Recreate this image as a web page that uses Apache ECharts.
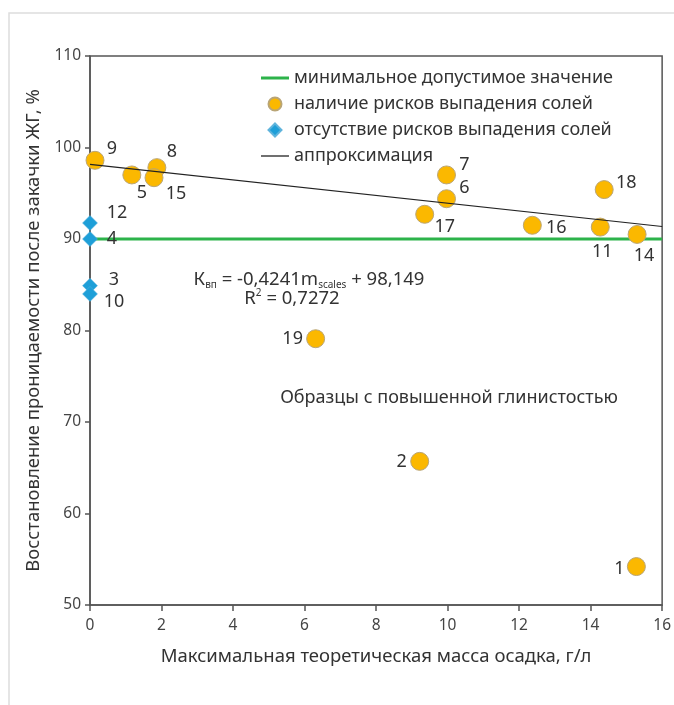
<!DOCTYPE html>
<html>
<head>
<meta charset="utf-8">
<script src="https://cdn.jsdelivr.net/npm/echarts@6/dist/echarts.min.js"></script>
<style>
  html, body { margin: 0; padding: 0; background: #fff; }
  #chart { width: 674px; height: 705px; }
</style>
</head>
<body>
<div id="chart"></div>
<script>
// samples with salt precipitation risk: [x, y, label, dx, dy]
var riskPoints = [
  [0.14, 98.6, '9', 17, -11],
  [1.17, 97.0, '5', 10, 18],
  [1.87, 97.8, '8', 15, -16],
  [1.79, 96.7, '15', 22, 16],
  [9.97, 97.0, '7', 18, -10],
  [9.97, 94.4, '6', 18, -11],
  [9.36, 92.7, '17', 20, 13],
  [12.37, 91.5, '16', 24, 3],
  [14.27, 91.3, '11', 2, 25],
  [15.30, 90.5, '14', 7, 21],
  [14.38, 95.4, '18', 22, -7],
  [6.31, 79.1, '19', -23, 0],
  [9.22, 65.7, '2', -18, 1],
  [15.28, 54.2, '1', -17, 2]
]
// samples without risk
var noRiskPoints = [
  [0, 91.75, '12', 27, -10],
  [0, 90.0, '4', 22, 0],
  [0, 84.9, '3', 24, -6],
  [0, 84.0, '10', 24, 8]
]
var minValueLine = [[0, 90], [16, 90]]
var slope = -0.4241
var intercept = 98.149
var trendX = [0, 16]

var legendNames = [
  'минимальное допустимое значение',
  'наличие рисков выпадения солей',
  'отсутствие рисков выпадения солей',
  'аппроксимация'
]

var font = 'Noto Sans'

function toData (arr) {
  return arr.map(function (p) {
    return {
      value: [p[0], p[1]],
      name: p[2],
      label: { offset: [p[3], p[4]] }
    }
  })
}

var chart = echarts.init(document.getElementById('chart'))
chart.setOption({
  animation: false,
  textStyle: { fontFamily: font },
  grid: {
    left: 90,
    right: 11,
    top: 56,
    bottom: 100,
    show: true,
    borderColor: '#555',
    borderWidth: 1.5
  },
  legend: {
    orient: 'vertical',
    left: 256,
    top: 64,
    itemGap: 8,
    itemWidth: 28,
    itemHeight: 13,
    symbolKeepAspect: true,
    textStyle: { fontSize: 18, color: '#333', fontFamily: font },
    data: [
      { name: legendNames[0], icon: 'path://M0,0L28,0L28,3L0,3Z' },
      { name: legendNames[1], icon: 'circle' },
      { name: legendNames[2], icon: 'path://M6,0L12,6L6,12L0,6Z' },
      { name: legendNames[3], icon: 'path://M0,0L28,0L28,1.3L0,1.3Z' }
    ]
  },
  xAxis: {
    type: 'value',
    min: 0,
    max: 16,
    interval: 2,
    name: 'Максимальная теоретическая масса осадка, г/л',
    nameLocation: 'middle',
    nameGap: 42,
    nameTextStyle: { fontSize: 18.5, color: '#333', fontFamily: font },
    axisLine: { lineStyle: { color: '#555', width: 1.5 } },
    axisTick: { show: true, length: 6, lineStyle: { color: '#555', width: 1.5 } },
    axisLabel: { fontSize: 15.5, color: '#444', margin: 13 },
    splitLine: { show: false }
  },
  yAxis: {
    type: 'value',
    min: 50,
    max: 110,
    interval: 10,
    name: 'Восстановление проницаемости после закачки ЖГ, %',
    nameLocation: 'middle',
    nameGap: 47,
    nameTextStyle: { fontSize: 18.5, color: '#333', fontFamily: font },
    axisLine: { lineStyle: { color: '#555', width: 1.5 } },
    axisTick: { show: true, length: 5, lineStyle: { color: '#555', width: 1.5 } },
    axisLabel: { fontSize: 15.5, color: '#444', margin: 9 },
    splitLine: { show: false }
  },
  series: [
    {
      name: legendNames[0],
      type: 'line',
      data: minValueLine,
      showSymbol: false,
      lineStyle: { color: '#2db34a', width: 3 },
      itemStyle: { color: '#2db34a' },
      z: 2
    },
    {
      name: legendNames[3],
      type: 'line',
      data: trendX.map(function (x) { return [x, slope * x + intercept] }),
      showSymbol: false,
      lineStyle: { color: '#222', width: 1.2 },
      itemStyle: { color: '#222' },
      z: 4
    },
    {
      name: legendNames[1],
      type: 'scatter',
      symbol: 'circle',
      symbolSize: 18,
      data: toData(riskPoints),
      itemStyle: { color: '#fbb800', borderColor: '#b9a576', borderWidth: 1, opacity: 1 },
      label: {
        show: true,
        position: 'inside',
        formatter: '{b}',
        fontSize: 18,
        color: '#333',
        fontFamily: font
      },
      z: 3
    },
    {
      name: legendNames[2],
      type: 'scatter',
      symbol: 'diamond',
      symbolSize: 15,
      data: toData(noRiskPoints),
      itemStyle: { color: '#1e9fd8', borderColor: '#5fb4dc', borderWidth: 0.5, opacity: 1 },
      label: {
        show: true,
        position: 'inside',
        formatter: '{b}',
        fontSize: 18,
        color: '#333',
        fontFamily: font
      },
      z: 5
    }
  ],
  graphic: [
    {
      type: 'rect',
      shape: { x: 9, y: 13, width: 700, height: 720 },
      style: { fill: 'none', stroke: '#ddd', lineWidth: 1.5 },
      silent: true
    },
    {
      type: 'text',
      x: 309,
      y: 280,
      style: {
        text: 'К{s|вп} = -0,4241m{s|scales} + 98,149',
        fontSize: 18.5,
        fontFamily: font,
        fill: '#333',
        align: 'center',
        verticalAlign: 'middle',
        rich: {
          s: { fontSize: 10, fontFamily: font, fill: '#333', padding: [11, 0, 0, 0] }
        }
      }
    },
    {
      type: 'text',
      x: 292,
      y: 299,
      style: {
        text: 'R{p|2} = 0,7272',
        fontSize: 18.5,
        fontFamily: font,
        fill: '#333',
        align: 'center',
        verticalAlign: 'middle',
        rich: {
          p: { fontSize: 10, fontFamily: font, fill: '#333', padding: [0, 0, 11, 0] }
        }
      }
    },
    {
      type: 'text',
      x: 449,
      y: 398,
      style: {
        text: 'Образцы с повышенной глинистостью',
        fontSize: 18,
        fontFamily: font,
        fill: '#333',
        align: 'center',
        verticalAlign: 'middle'
      }
    }
  ]
})
</script>
</body>
</html>
